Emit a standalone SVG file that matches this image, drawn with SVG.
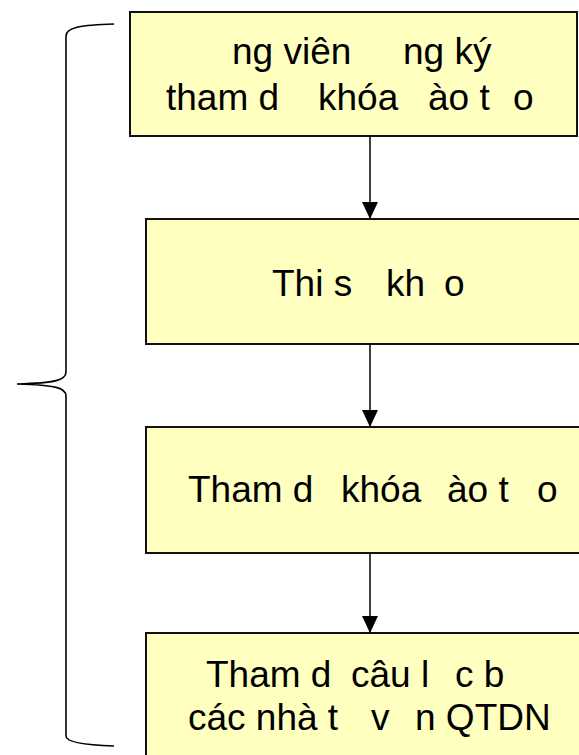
<svg xmlns="http://www.w3.org/2000/svg" width="579" height="755" viewBox="0 0 579 755">
  <style>
    .box { fill: #FFFFC0; stroke: #111; stroke-width: 2; }
    .lbl { font-family: "Liberation Sans", Arial, sans-serif; font-size: 37px; fill: #000; white-space: pre; }
    .edge { stroke: #000; stroke-width: 1.5; fill: none; }
    .brace { stroke: #000; stroke-width: 1.6; fill: none; }
  </style>
  <defs>
    <marker id="arrow" markerUnits="userSpaceOnUse" markerWidth="18" markerHeight="18" refX="17" refY="8" orient="auto">
      <path d="M0,0 L17,8 L0,16 Z" fill="#000"/>
    </marker>
  </defs>

  <!-- brace grouping the steps -->
  <path class="brace" d="M114,24 C82,25 66,27 66,36 L66,372 C66,380 56,383 17,384 C56,385 66,388 66,396 L66,736 C66,742 82,745 114,746"/>

  <g id="node-register">
    <rect class="box" x="130" y="12" width="447" height="124"/>
    <text class="lbl" y="64"><tspan x="232">ng viên </tspan><tspan x="403">ng ký</tspan></text>
    <text class="lbl" y="110"><tspan x="166">tham d </tspan><tspan x="318">khóa </tspan><tspan x="428">ào t </tspan><tspan x="513">o</tspan></text>
  </g>

  <g id="node-exam">
    <rect class="box" x="146" y="219" width="445" height="125"/>
    <text class="lbl" y="296"><tspan x="272">Thi s </tspan><tspan x="386">kh </tspan><tspan x="444">o</tspan></text>
  </g>

  <g id="node-course">
    <rect class="box" x="146" y="427" width="445" height="126"/>
    <text class="lbl" y="502"><tspan x="188">Tham d </tspan><tspan x="341">khóa </tspan><tspan x="447">ào t </tspan><tspan x="537">o</tspan></text>
  </g>

  <g id="node-club">
    <rect class="box" x="146" y="633" width="445" height="140"/>
    <text class="lbl" y="687"><tspan x="206">Tham d </tspan><tspan x="351">câu l </tspan><tspan x="455">c b</tspan></text>
    <text class="lbl" y="730"><tspan x="188">các nhà t </tspan><tspan x="371">v </tspan><tspan x="415">n QTDN</tspan></text>
  </g>

  <g id="connectors">
    <line class="edge" x1="370" y1="136" x2="370" y2="219" marker-end="url(#arrow)"/>
    <line class="edge" x1="370" y1="344" x2="370" y2="427" marker-end="url(#arrow)"/>
    <line class="edge" x1="370" y1="553" x2="370" y2="633" marker-end="url(#arrow)"/>
  </g>
</svg>
